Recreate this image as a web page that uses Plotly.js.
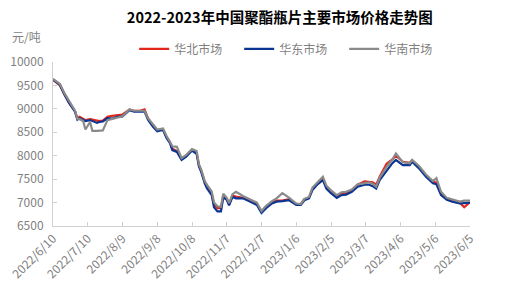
<!DOCTYPE html>
<html><head><meta charset="utf-8">
<script src="https://cdn.plot.ly/plotly-3.0.1.min.js"></script>
<style>html,body{margin:0;padding:0;background:#fff}#c{width:520px;height:300px}</style>
</head><body><div id="c"></div>
<script>
const dates = ["2022-06-10","2022-06-16","2022-06-20","2022-06-24","2022-06-29","2022-07-01","2022-07-03","2022-07-06","2022-07-08","2022-07-12","2022-07-14","2022-07-18","2022-07-20","2022-07-23","2022-07-27","2022-07-31","2022-08-04","2022-08-09","2022-08-15","2022-08-19","2022-08-24","2022-08-28","2022-08-31","2022-09-04","2022-09-08","2022-09-13","2022-09-16","2022-09-19","2022-09-21","2022-09-25","2022-09-29","2022-10-03","2022-10-08","2022-10-12","2022-10-14","2022-10-16","2022-10-19","2022-10-21","2022-10-25","2022-10-27","2022-10-30","2022-11-02","2022-11-04","2022-11-07","2022-11-09","2022-11-12","2022-11-15","2022-11-21","2022-11-27","2022-12-03","2022-12-07","2022-12-11","2022-12-16","2022-12-20","2022-12-25","2022-12-31","2023-01-06","2023-01-10","2023-01-13","2023-01-17","2023-01-20","2023-01-24","2023-01-29","2023-02-01","2023-02-05","2023-02-10","2023-02-14","2023-02-18","2023-02-23","2023-02-28","2023-03-06","2023-03-10","2023-03-13","2023-03-16","2023-03-19","2023-03-25","2023-03-30","2023-04-02","2023-04-08","2023-04-14","2023-04-16","2023-04-22","2023-04-28","2023-05-04","2023-05-07","2023-05-11","2023-05-16","2023-05-21","2023-05-27","2023-05-31","2023-06-05"];
const huabei = [9620,9500,9300,9120,8950,8800,8830,8790,8760,8780,8770,8760,8740,8750,8830,8850,8870,8880,8980,8960,8960,8990,8800,8650,8540,8560,8400,8290,8150,8100,7940,8000,8120,8060,7800,7680,7440,7330,7200,6960,6880,6880,7150,7080,6960,7150,7130,7100,7040,6980,6800,6900,7000,7040,7040,7070,6970,6970,7070,7100,7290,7400,7510,7340,7220,7120,7180,7200,7260,7380,7450,7440,7430,7380,7550,7830,7920,8000,7870,7850,7900,7760,7580,7440,7430,7190,7070,7020,7000,6900,7010];
const huadong = [9630,9510,9300,9120,8940,8770,8800,8760,8740,8760,8740,8700,8720,8730,8800,8790,8830,8840,8970,8940,8940,8940,8770,8630,8520,8550,8380,8270,8120,8080,7910,7980,8110,8040,7770,7650,7410,7300,7160,6900,6810,6810,7110,7060,6940,7120,7090,7090,7020,6950,6780,6880,6980,7020,7030,7050,6950,6950,7050,7090,7270,7380,7480,7300,7200,7100,7160,7170,7230,7340,7380,7380,7350,7300,7480,7690,7840,7910,7800,7800,7870,7730,7550,7410,7390,7160,7060,7020,6980,6990,7000];
const huanan = [9640,9530,9330,9160,8960,8790,8780,8740,8560,8720,8530,8530,8540,8540,8760,8780,8810,8840,8990,8960,8960,8960,8800,8680,8560,8580,8420,8300,8200,8190,7950,8020,8140,8100,7820,7700,7460,7380,7240,7000,6920,6910,7190,7100,6990,7180,7230,7140,7070,7000,6820,6930,7030,7090,7200,7100,6980,6970,7080,7120,7320,7430,7550,7360,7260,7160,7220,7230,7280,7390,7420,7430,7400,7340,7530,7760,7920,8050,7860,7840,7910,7780,7600,7460,7520,7230,7100,7060,7020,7040,7040];
const tickDates = ["2022-06-10","2022-07-10","2022-08-09","2022-09-08","2022-10-08","2022-11-07","2022-12-07","2023-01-06","2023-02-05","2023-03-07","2023-04-06","2023-05-06","2023-06-05"];
const tickLabels = ["2022/6/10","2022/7/10","2022/8/9","2022/9/8","2022/10/8","2022/11/7","2022/12/7","2023/1/6","2023/2/5","2023/3/7","2023/4/6","2023/5/6","2023/6/5"];
const seriesNames = ["华北市场","华东市场","华南市场"];
const colors = ["#e3261b","#0a3592","#8a8a8a"];
const vals = [huabei, huadong, huanan];

const font = "'Noto Sans CJK SC','Noto Sans',sans-serif";
const traces = vals.map((v,i)=>({
  x: dates, y: v, type:'scatter', mode:'lines', name: seriesNames[i],
  line:{color:colors[i], width:2.2}
}));
const layout = {
  width:520, height:300,
  margin:{l:53, r:50, t:62, b:74, autoexpand:false},
  paper_bgcolor:'#fff', plot_bgcolor:'#fff',
  font:{family:font, size:12, color:'#7f7f7f'},
  title:{text:'<b>2022-2023年中国聚酯瓶片主要市场价格走势图</b>', x:0.538, xref:'container', xanchor:'center', y:0.94, yref:'container', yanchor:'middle', font:{family:font, size:14.5, color:'#000'}},
  showlegend:true,
  legend:{orientation:'h', x:0.258, xref:'container', y:0.837, yref:'container', yanchor:'middle', xanchor:'left', font:{size:12, color:'#7f7f7f'}, entrywidth:60, entrywidthmode:'pixels', itemwidth:30, tracegroupgap:0, bgcolor:'rgba(0,0,0,0)'},
  xaxis:{type:'date', range:['2022-06-10','2023-06-05'], tickvals:tickDates, ticktext:tickLabels, tickangle:-45,
    showgrid:false, zeroline:false, showline:true, linecolor:'#d0d0d0', linewidth:1,
    ticks:'inside', ticklen:4, tickcolor:'#d0d0d0', tickfont:{size:12, color:'#7f7f7f'}},
  yaxis:{range:[6500,10000], dtick:500, tick0:6500, tickformat:'d', showgrid:false, zeroline:false, showline:true, linecolor:'#d0d0d0', linewidth:1,
    ticks:'inside', ticklen:4, tickcolor:'#d0d0d0', tickfont:{size:12, color:'#7f7f7f'}, ticklabelstandoff:6},
  annotations:[{text:'元/吨', xref:'paper', yref:'paper', x:0, y:1, xshift:-53+10, yshift:26, xanchor:'left', yanchor:'middle', showarrow:false, font:{size:12, color:'#7f7f7f'}}]
};
Plotly.newPlot('c', traces, layout, {displayModeBar:false, staticPlot:true});
</script></body></html>
